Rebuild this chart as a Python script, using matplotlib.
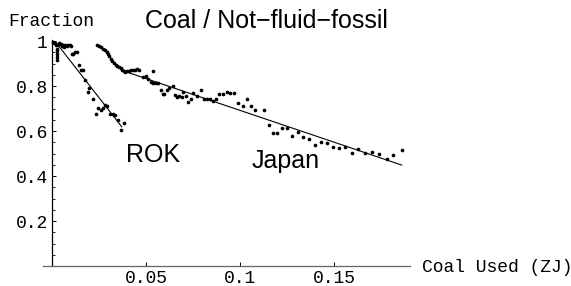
import matplotlib
matplotlib.use("Agg")
import matplotlib.pyplot as plt

# ROK points (coal used in ZJ, fraction)
rok_x = [0.0005, 0.0010, 0.0016, 0.0021, 0.0025, 0.0025, 0.0028, 0.0028, 0.0025,
         0.0034, 0.0039, 0.0046, 0.0051, 0.0057, 0.0064, 0.0069, 0.0078, 0.0087,
         0.0096, 0.0101, 0.0105, 0.0113, 0.0122, 0.0131, 0.0145, 0.0153, 0.0163,
         0.0176, 0.0190, 0.0198, 0.0220, 0.0234, 0.0246, 0.0259, 0.0270, 0.0282,
         0.0291, 0.0309, 0.0323, 0.0335, 0.0353, 0.0365, 0.0385]
rok_y = [0.995, 0.990, 0.990, 0.982, 0.967, 0.957, 0.945, 0.930, 0.916,
         0.982, 0.993, 0.987, 0.978, 0.982, 0.975, 0.982, 0.978, 0.982,
         0.982, 0.979, 0.945, 0.942, 0.952, 0.952, 0.893, 0.874, 0.874,
         0.827, 0.775, 0.790, 0.741, 0.676, 0.701, 0.693, 0.705, 0.716,
         0.711, 0.676, 0.676, 0.671, 0.649, 0.604, 0.637]

# Japan points
jp_x = [0.0241, 0.0252, 0.0262, 0.0273, 0.0282, 0.0291, 0.0300, 0.0305, 0.0314,
        0.0321, 0.0330, 0.0339, 0.0347, 0.0356, 0.0365, 0.0374, 0.0381, 0.0388,
        0.0397, 0.0408, 0.0419, 0.0429, 0.0443, 0.0454, 0.0464, 0.0486, 0.0500,
        0.0512, 0.0525, 0.0539, 0.0535, 0.0553, 0.0566, 0.0578, 0.0589, 0.0597,
        0.0610, 0.0622, 0.0642, 0.0654, 0.0665, 0.0676, 0.0690, 0.0699, 0.0713,
        0.0725, 0.0739, 0.0752, 0.0770, 0.0791, 0.0809, 0.0823, 0.0840, 0.0855,
        0.0872, 0.0890, 0.0908, 0.0929, 0.0947, 0.0968, 0.0991, 0.1018, 0.1035,
        0.1057, 0.1080, 0.1130, 0.1153, 0.1175, 0.1196, 0.1222, 0.1252, 0.1278,
        0.1307, 0.1337, 0.1369, 0.1399, 0.1429, 0.1461, 0.1493, 0.1525, 0.1559,
        0.1594, 0.1629, 0.1665, 0.1701, 0.1741, 0.1780, 0.1815, 0.1860]
jp_y = [0.982, 0.978, 0.972, 0.966, 0.960, 0.952, 0.945, 0.935, 0.923,
        0.913, 0.904, 0.896, 0.890, 0.886, 0.880, 0.874, 0.868, 0.864,
        0.867, 0.868, 0.871, 0.871, 0.874, 0.876, 0.871, 0.841, 0.844,
        0.830, 0.819, 0.868, 0.816, 0.815, 0.816, 0.785, 0.767, 0.763,
        0.782, 0.790, 0.801, 0.760, 0.750, 0.756, 0.750, 0.772, 0.756,
        0.730, 0.745, 0.770, 0.756, 0.782, 0.745, 0.745, 0.745, 0.735,
        0.741, 0.767, 0.767, 0.775, 0.770, 0.770, 0.726, 0.713, 0.745,
        0.711, 0.693, 0.696, 0.627, 0.593, 0.592, 0.616, 0.615, 0.578,
        0.597, 0.572, 0.563, 0.538, 0.553, 0.545, 0.530, 0.526, 0.530,
        0.501, 0.519, 0.504, 0.508, 0.496, 0.476, 0.493, 0.516]

# fitted lines (end points)
rok_fit_x = [0.0039, 0.0371]
rok_fit_y = [0.975, 0.619]
jp_fit_x = [0.0400, 0.1860]
jp_fit_y = [0.862, 0.449]

y_ticks = [0.2, 0.4, 0.6, 0.8, 1.0]
y_labels = ['0.2', '0.4', '0.6', '0.8', '1']
x_ticks = [0.05, 0.1, 0.15]
x_labels = ['0.05', '0.1', '0.15']

mono = 'Liberation Mono'
sans = 'Liberation Sans'

fig = plt.figure(figsize=(5.71, 2.86), dpi=100)
ax = fig.add_axes([0.0753, 0.0699, 0.6427, 0.790])

ax.scatter(rok_x, rok_y, s=7, color='black', linewidths=0, clip_on=False)
ax.scatter(jp_x, jp_y, s=7, color='black', linewidths=0, clip_on=False)
ax.plot(rok_fit_x, rok_fit_y, color='black', linewidth=0.8)
ax.plot(jp_fit_x, jp_fit_y, color='black', linewidth=0.8)

ax.set_xlim(-0.0048, 0.1904)
ax.set_ylim(0, 1.005)

ax.spines['top'].set_visible(False)
ax.spines['right'].set_visible(False)
ax.spines['left'].set_position(('data', 0))
ax.spines['bottom'].set_position(('data', 0))
ax.spines['left'].set_color('black')
ax.spines['bottom'].set_color('#666666')
ax.spines['left'].set_linewidth(0.9)
ax.spines['bottom'].set_linewidth(0.9)

ax.set_yticks(y_ticks)
ax.set_yticklabels(y_labels, fontfamily=mono, fontsize=13)
ax.set_yticks([0.05 * i for i in range(1, 20) if i % 4 != 0], minor=True)
ax.set_xticks(x_ticks)
ax.set_xticklabels(x_labels, fontfamily=mono, fontsize=13)
ax.tick_params(axis='both', which='major', direction='in', length=3, width=0.7, pad=3)
ax.tick_params(axis='both', which='minor', direction='in', length=1.8, width=0.6)

fig.text(8 / 571, 1 - 21 / 286, 'Fraction', fontfamily=mono, fontsize=13, va='center', ha='left')
fig.text(145 / 571, 1 - 21 / 286, 'Coal / Not\u2212fluid\u2212fossil', fontfamily=sans, fontsize=18,
         va='center', ha='left')
fig.text(422 / 571, 1 - 267 / 286, 'Coal Used (ZJ)', fontfamily=mono, fontsize=13, va='center', ha='left')

ax.text(126 / 571, 1 - 162 / 286, 'ROK', transform=fig.transFigure, fontfamily=sans, fontsize=18,
        va='baseline', ha='left')
ax.text(252 / 571, 1 - 168 / 286, 'Japan', transform=fig.transFigure, fontfamily=sans, fontsize=18,
        va='baseline', ha='left')

fig.savefig('out.png', dpi=100)
